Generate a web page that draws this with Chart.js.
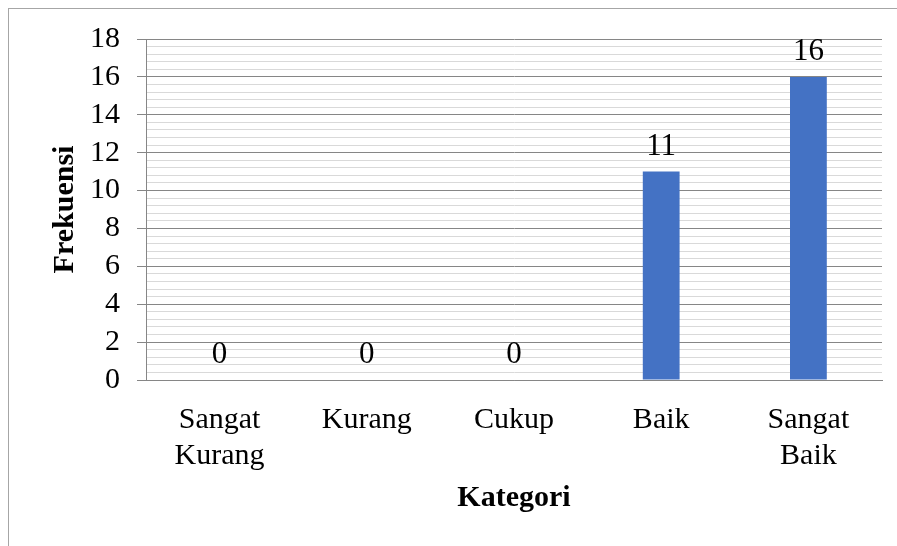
<!DOCTYPE html>
<html>
<head>
<meta charset="utf-8">
<script src="https://cdn.jsdelivr.net/npm/chart.js@4"></script>
<style>
    body { margin: 0; background: #fff; }
    #wrap { width: 897px; height: 546px; }
</style>
</head>
<body>
<div id="wrap"><canvas id="freqChart" width="897" height="546"></canvas></div>
<script>
// Chart data
const categories = [['Sangat', 'Kurang'], 'Kurang', 'Cukup', 'Baik', ['Sangat', 'Baik']];
const frequencies = [0, 0, 0, 11, 16];
const yMin = 0;
const yMax = 18;
const majorStep = 2;
const minorStep = 0.4;

const serif = '"Liberation Serif", "Times New Roman", serif';
const isMajor = (v) => Math.round(v * 10) % (majorStep * 10) === 0;

// Outer chart border like the Excel frame
const frameBorder = {
    id: 'frameBorder',
    beforeDraw(chart) {
        const { ctx } = chart;
        ctx.save();
        ctx.strokeStyle = '#a6a6a6';
        ctx.lineWidth = 1;
        ctx.strokeRect(8.5, 8.5, chart.width, chart.height);
        ctx.restore();
    }
};

// Value labels above each bar
const valueLabels = {
    id: 'valueLabels',
    afterDatasetsDraw(chart) {
        const { ctx } = chart;
        const meta = chart.getDatasetMeta(0);
        ctx.save();
        ctx.font = '31px ' + serif;
        ctx.fillStyle = '#000';
        ctx.textAlign = 'center';
        ctx.textBaseline = 'alphabetic';
        meta.data.forEach((bar, i) => {
            ctx.fillText(String(frequencies[i]), bar.x, bar.y - 17);
        });
        ctx.restore();
    }
};

const ctx = document.getElementById('freqChart').getContext('2d');
new Chart(ctx, {
    type: 'bar',
    data: {
        labels: categories,
        datasets: [{
            data: frequencies,
            backgroundColor: '#4472c4',
            borderWidth: 0,
            categoryPercentage: 1,
            barPercentage: 0.25
        }]
    },
    options: {
        responsive: false,
        animation: false,
        layout: { padding: { top: 39, right: 15, left: 0, bottom: 0 } },
        plugins: {
            legend: { display: false },
            tooltip: { enabled: false }
        },
        scales: {
            x: {
                grid: { display: false, drawTicks: false },
                border: { display: true, color: '#868686', width: 1 },
                ticks: {
                    color: '#000',
                    padding: 22,
                    maxRotation: 0,
                    autoSkip: false,
                    font: { family: serif, size: 30, lineHeight: 1.2 }
                },
                title: {
                    display: true,
                    text: 'Kategori',
                    color: '#000',
                    padding: { top: 0, bottom: 30 },
                    font: { family: serif, size: 30, weight: 'bold', lineHeight: 1.2 }
                },
                afterFit(scale) { scale.height = 166; }
            },
            y: {
                min: yMin,
                max: yMax,
                grid: {
                    color: (c) => isMajor(c.tick.value) ? '#868686' : '#d9d9d9',
                    tickColor: (c) => isMajor(c.tick.value) ? '#868686' : 'rgba(0,0,0,0)',
                    tickLength: 9,
                    lineWidth: 1
                },
                border: { display: true, color: '#868686', width: 1 },
                ticks: {
                    stepSize: minorStep,
                    autoSkip: false,
                    color: '#000',
                    padding: 17,
                    font: { family: serif, size: 30 },
                    callback: (v) => isMajor(v) ? String(Math.round(v)) : ''
                },
                title: {
                    display: true,
                    text: 'Frekuensi',
                    color: '#000',
                    padding: { top: 47, bottom: 0 },
                    font: { family: serif, size: 30, weight: 'bold', lineHeight: 1.2 }
                },
                afterFit(scale) { scale.width = 146; }
            }
        }
    },
    plugins: [frameBorder, valueLabels]
});
</script>
</body>
</html>
